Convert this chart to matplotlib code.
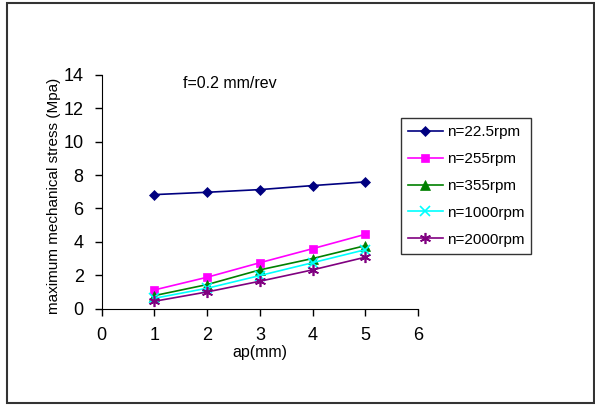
import numpy as np
import matplotlib
matplotlib.use('Agg')
from matplotlib import pyplot as plt
from matplotlib.patches import Rectangle

plt.rcParams['font.family'] = ['Liberation Sans', 'DejaVu Sans']

ap = [1, 2, 3, 4, 5]
s_225 = [6.83, 6.97, 7.13, 7.37, 7.59]
s_255 = [1.12, 1.88, 2.75, 3.59, 4.45]
s_355 = [0.78, 1.44, 2.32, 3.00, 3.77]
s_1000 = [0.62, 1.22, 1.98, 2.75, 3.53]
s_2000 = [0.44, 1.00, 1.64, 2.32, 3.08]
labels = ['n=22.5rpm', 'n=255rpm', 'n=355rpm', 'n=1000rpm', 'n=2000rpm']

fig = plt.figure(figsize=(5.95, 4.05), dpi=100)
ax = fig.add_axes([0.171, 0.238, 0.5315, 0.577])

series = [s_225, s_255, s_355, s_1000, s_2000]
colors = ['#000080', '#FF00FF', '#008000', '#00FFFF', '#800080']
markers = ['D', 's', '^', 'x', (6, 2, 0)]
sizes = [5.5, 6, 6.5, 6.5, 8]
for y, c, m, ms, lab in zip(series, colors, markers, sizes, labels):
    thin = m == 'x' or isinstance(m, tuple)
    ax.plot(ap, y, color=c, marker=m, markersize=ms, linewidth=1.2,
            markeredgewidth=1.2 if thin else 0.5, label=lab, clip_on=False)

ax.set_xlim(0, 6)
ax.set_ylim(0, 14)
ax.set_xticks(range(0, 7))
ax.set_yticks(range(0, 15, 2))
ax.spines['top'].set_visible(False)
ax.spines['right'].set_visible(False)
ax.tick_params(direction='out', length=5, width=1, pad=8, labelsize=13)

ax.set_xlabel('ap(mm)', fontsize=11.5, va='top')
ax.xaxis.set_label_coords(0.499, -0.155)
ax.set_ylabel('maximum mechanical stress (Mpa)', fontsize=11)
ax.yaxis.set_label_coords(-0.128, 0.484)

ax.text(1.54, 13.5, 'f=0.2 mm/rev', fontsize=11.5, ha='left', va='center')

leg = ax.legend(loc='upper left', bbox_to_anchor=(401 / 595, 1 - 118 / 405),
                bbox_transform=fig.transFigure, fontsize=11, frameon=True,
                fancybox=False, edgecolor='black', handlelength=2.3,
                handletextpad=0.25, labelspacing=0.85, borderpad=0.45,
                borderaxespad=0)
leg.get_frame().set_linewidth(1)

fig.patches.append(Rectangle((7 / 595, 2 / 405), 587 / 595, 400 / 405,
                             transform=fig.transFigure, fill=False,
                             edgecolor='#333333', linewidth=1.5))

fig.savefig('out.png', dpi=100)
